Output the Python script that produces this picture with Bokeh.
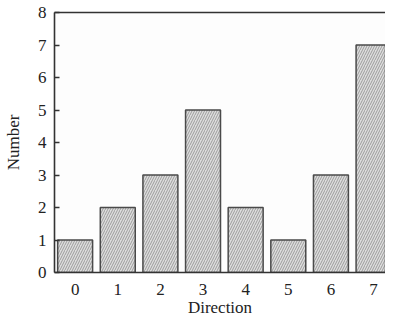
from bokeh.plotting import figure
from bokeh.models import FixedTicker, Range1d, ColumnDataSource, LinearAxis
from bokeh.embed import file_html
from bokeh.resources import INLINE

directions = [0, 1, 2, 3, 4, 5, 6, 7]
counts = [1, 2, 3, 5, 2, 1, 3, 7]
y_ticks = [0, 1, 2, 3, 4, 5, 6, 7, 8]

src = ColumnDataSource(dict(x=directions, top=counts))

FONT = "Liberation Serif"

p = figure(width=385, height=319, output_backend="svg", toolbar_location=None,
           x_range=Range1d(-0.484, 7.28), y_range=Range1d(0, 8.0),
           x_axis_label="Direction", y_axis_label="Number")
p.min_border_left = 48
p.min_border_right = 0
p.min_border_top = 12
p.min_border_bottom = 42
p.outline_line_color = None
p.grid.visible = False
p.background_fill_color = "#fdfdfd"

p.vbar(x="x", top="top", bottom=0, width=0.82, source=src,
       fill_color="#dedede", line_color="#4a4a4a", line_width=1.5,
       hatch_pattern="/", hatch_color="#8a8a8a", hatch_scale=5, hatch_weight=0.8)

for ax in (p.xaxis[0], p.yaxis[0]):
    ax.axis_line_width = 1.6
    ax.axis_line_color = "#333333"
    ax.major_label_text_font = FONT
    ax.major_label_text_font_size = "17px"
    ax.major_label_text_color = "#222222"
    ax.axis_label_text_font = FONT
    ax.axis_label_text_font_size = "17px"
    ax.axis_label_text_font_style = "normal"
    ax.axis_label_text_color = "#222222"
    ax.minor_tick_line_color = None

p.xaxis.ticker = FixedTicker(ticks=directions)
p.xaxis.major_tick_line_color = None
p.xaxis.major_label_standoff = 5
p.xaxis.axis_label_standoff = 0

p.yaxis.ticker = FixedTicker(ticks=y_ticks)
p.yaxis.major_tick_in = 5
p.yaxis.major_tick_out = 0
p.yaxis.major_tick_line_width = 1.5
p.yaxis.major_tick_line_color = "#333333"
p.yaxis.major_label_standoff = 8
p.yaxis.axis_label_standoff = 12

# top frame line (axis with no ticks or labels)
top = LinearAxis(major_tick_line_color=None, minor_tick_line_color=None,
                 major_label_text_font_size="0px", axis_line_width=1.6,
                 axis_line_color="#333333", ticker=FixedTicker(ticks=[]))
p.add_layout(top, "above")

open("out.html", "w").write(file_html(p, INLINE))
